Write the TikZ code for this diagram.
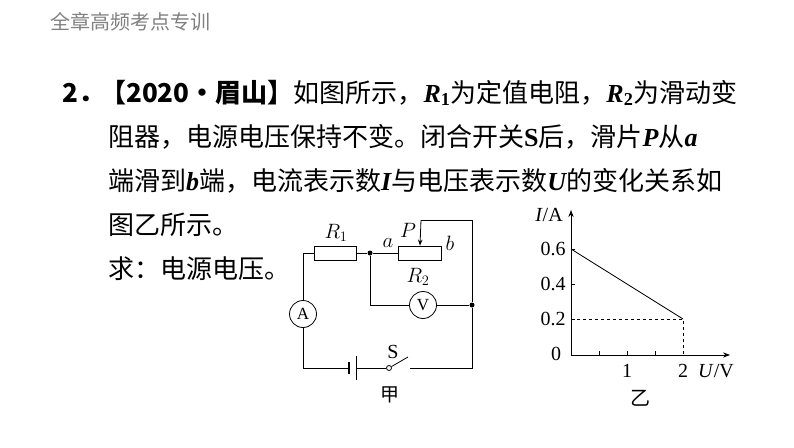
\documentclass[tikz,border=0pt]{standalone}
\usepackage{fontspec}
\setmainfont{Liberation Serif}
\newfontfamily\cjk{Noto Sans CJK SC}
\usetikzlibrary{arrows.meta,calc}
\newcommand{\bi}[1]{{\rmfamily\bfseries\itshape #1}}
\begin{document}
\begin{tikzpicture}[x=1pt,y=-1pt,
  txt/.style={anchor=west,inner sep=0pt,font=\cjk\fontsize{26}{26}\selectfont},
  lab/.style={inner sep=0pt,font=\rmfamily\fontsize{20}{20}\selectfont},
  w/.style={line width=0.8pt},
  dot/.style={circle,fill,inner sep=0pt,minimum size=5pt},
  meter/.style={circle,draw,line width=0.8pt,minimum size=27pt,inner sep=0pt,font=\rmfamily\fontsize{17}{17}\selectfont}]
\useasboundingbox (0,0) rectangle (794,447);
\node[anchor=west,inner sep=0pt,text=gray,font=\cjk\fontsize{20}{20}\selectfont] (title) at (50,22) {全章高频考点专训};
\node[txt] (l0) at (62,93) {\bfseries 2．};
\node[txt] (l1) at (100,93) {\bfseries【2020·眉山】\mdseries 如图所示，\bi{R}$_{\bf 1}$为定值电阻，\bi{R}$_{\bf 2}$为滑动变};
\node[txt] (l2) at (108,137) {阻器，电源电压保持不变。闭合开关{\rmfamily\bfseries S}后，滑片\bi{P}从\bi{a}};
\node[txt] (l3) at (108,181) {端滑到\bi{b}端，电流表示数\bi{I}与电压表示数\bi{U}的变化关系如};
\node[txt] (l4) at (108,225) {图乙所示。};
\node[txt] (l5) at (108,269) {求：电源电压。};
% circuit
\node[draw,w,minimum width=42pt,minimum height=14pt,inner sep=0pt] (r1) at (335,253) {};
\node[draw,w,minimum width=43pt,minimum height=14pt,inner sep=0pt] (r2) at (420,253) {};
\node[dot] (ja) at (370,253) {};
\node[dot] (jr) at (472,305) {};
\node[meter] (vm) at (423,305) {V};
\node[meter] (am) at (303,314) {A};
\coordinate (tl) at (303,253);
\coordinate (bl) at (303,368);
\coordinate (br) at (472,368);
\coordinate (tr) at (472,220);
\coordinate (pt) at (421,220);
\coordinate (bat1) at (349,368);
\coordinate (bat2) at (356,368);
\node[circle,draw,w,fill=white,inner sep=0pt,minimum size=5pt] (sw) at (389,368) {};
\coordinate (swe) at (408,357);
\coordinate (swr) at (410,368);
\draw[w] (am) -- (tl) -- (r1) -- (ja) -- (r2);
\draw[w] (am) -- (bl) -- (bat1);
\draw[line width=1.8pt] ($(bat1)+(0,-6)$) -- ($(bat1)+(0,6)$);
\draw[w] ($(bat2)+(0,-12)$) -- ($(bat2)+(0,12)$);
\draw[w] (bat2) -- (sw);
\draw[w] (sw) -- (swe);
\draw[w] (swr) -- (br) -- (jr) -- (tr) -- (pt);
\draw[w,-{Stealth[length=6pt]}] (pt) -- (r2.north);
\draw[w] (ja) |- (vm);
\draw[w] (vm) -- (jr);
\node[lab] (lr1) at (336,233) {$R_1$};
\node[lab] (la) at (388,243) {$a$};
\node[lab] (lp) at (408,230) {$P$};
\node[lab] (lb) at (450,243) {$b$};
\node[lab] (lr2) at (418,277) {$R_2$};
\node[lab] (ls) at (393,352) {S};
\node[lab,font=\cjk\fontsize{19}{19}\selectfont] (jia) at (390,395) {甲};
% graph
\coordinate (o) at (571,355);
\draw[w,-{Stealth[length=7pt]}] (o) -- (571,210);
\draw[w,-{Stealth[length=7pt]}] (o) -- (730,355);
\foreach \x in {599,627,655} \draw[w] (\x,355) -- (\x,351);
\foreach \y in {249,284,319} \draw[w] (571,\y) -- (575,\y);
\draw[w] (571,249) -- (683,319);
\draw[w,dashed] (571,319) -- (683,319) -- (683,355);
\node[lab] (t0) at (556,354) {0};
\node[lab] (t2) at (553,319) {0.2};
\node[lab] (t4) at (553,284) {0.4};
\node[lab] (t6) at (553,249) {0.6};
\node[lab] (x1) at (627,371) {1};
\node[lab] (x2) at (683,371) {2};
\node[lab] (xl) at (716,371) {\textit{U}/V};
\node[lab] (yl) at (549,215) {\textit{I}/A};
\node[lab,font=\cjk\fontsize{20}{20}\selectfont] (yi) at (640,398) {乙};
\end{tikzpicture}
\end{document}
